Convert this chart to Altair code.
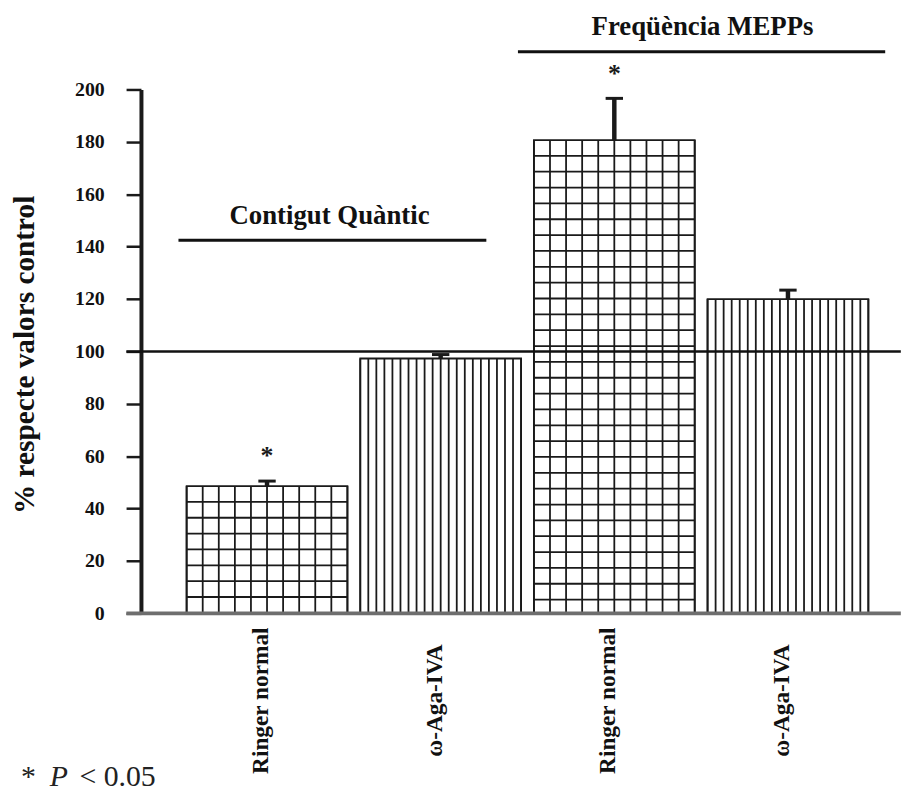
import altair as alt
import pandas as pd
import numpy as np

# ---------------- data ----------------
categories = ["Ringer normal", "ω-Aga-IVA", "Ringer normal", "ω-Aga-IVA"]
groups = ["Contigut Quàntic", "Contigut Quàntic", "Freqüència MEPPs", "Freqüència MEPPs"]
values = [48.6, 97.3, 180.7, 120.0]
err_upper = [50.5, 98.8, 196.6, 123.4]
signif = ["*", "", "*", ""]
fill_kind = ["grid", "vertical", "grid", "vertical"]
y_ticks = [0, 20, 40, 60, 80, 100, 120, 140, 160, 180, 200]
reference_value = [100]
group_names = ["Contigut Quàntic", "Freqüència MEPPs"]
footnote_parts = ["*", "P", "< 0.05"]

# ---------------- layout / style constants ----------------
FONT = "Liberation Serif"
POS = [1, 2, 3, 4]
HALF = 0.463
X_DOMAIN = [0.274, 4.651]
LINE_X0, LINE_X1 = 0.19, 4.65
GROUP_LINE_X0 = [0.49, 2.445]
GROUP_LINE_X1 = [2.263, 4.56]
GROUP_LINE_Y = [142.4, 214.4]
GROUP_TEXT_X = [1.36, 3.508]
GROUP_TEXT_Y = [151.5, 223.9]
GRID_STEP_Y = 6.05
INK = "#1a1a1a"

bars = pd.DataFrame({
    "pos": POS, "cat": categories, "group": groups, "value": values,
    "err": err_upper, "sig": signif, "kind": fill_kind,
})
bars["x0"] = bars["pos"] - HALF
bars["x1"] = bars["pos"] + HALF
bars["cx0"] = bars["pos"] - 0.05
bars["cx1"] = bars["pos"] + 0.05

# hatch pattern pieces (style only, derived from the bar table)
vrows, hrows = [], []
for _, b in bars.iterrows():
    n = 10 if b["kind"] == "grid" else 20
    for k in range(n + 1):
        vrows.append({"x": b["x0"] + (b["x1"] - b["x0"]) * k / n, "y0": 0, "y1": b["value"]})
    if b["kind"] == "grid":
        k = 1
        while b["value"] - k * GRID_STEP_Y > 3:
            hrows.append({"y": b["value"] - k * GRID_STEP_Y, "x0": b["x0"], "x1": b["x1"]})
            k += 1
vlines = pd.DataFrame(vrows)
hlines = pd.DataFrame(hrows)

xs = alt.Scale(domain=X_DOMAIN, nice=False, zero=False)
ys = alt.Scale(domain=[0, 200], nice=False)

base = alt.Chart(bars)

rects = base.mark_rect(fill="white", stroke=INK, strokeWidth=1.8).encode(
    x=alt.X("x0:Q", scale=xs, axis=None),
    x2="x1:Q",
    y=alt.Y("value:Q", scale=ys, axis=alt.Axis(
        values=y_ticks, grid=False, tickSize=15, tickWidth=2.5, tickColor=INK,
        domainWidth=4, domainColor=INK, labelFont=FONT, labelFontWeight="bold",
        labelFontSize=20, labelPadding=22, labelColor="#111",
        title="% respecte valors control", titleFont=FONT, titleFontWeight="bold",
        titleFontSize=29.5, titleColor="#111", titleX=-117, titleY=267,
        titleAngle=270, titleAlign="center", titleBaseline="middle")),
    y2=alt.datum(0),
)

vhatch = alt.Chart(vlines).mark_rule(color=INK, strokeWidth=1.8).encode(
    x=alt.X("x:Q", scale=xs), y=alt.Y("y0:Q", scale=ys), y2="y1:Q")
hhatch = alt.Chart(hlines).mark_rule(color=INK, strokeWidth=1.8).encode(
    x=alt.X("x0:Q", scale=xs), x2="x1:Q", y=alt.Y("y:Q", scale=ys))

err_line = base.mark_rule(color=INK, strokeWidth=4.5).encode(
    x=alt.X("pos:Q", scale=xs), y=alt.Y("value:Q", scale=ys), y2="err:Q")
err_cap = base.mark_rule(color=INK, strokeWidth=3).encode(
    x=alt.X("cx0:Q", scale=xs), x2="cx1:Q", y=alt.Y("err:Q", scale=ys))

stars = base.mark_text(font=FONT, fontWeight="bold", fontSize=26, color=INK,
                       baseline="alphabetic", dy=-17).encode(
    x=alt.X("pos:Q", scale=xs), y=alt.Y("err:Q", scale=ys), text="sig:N")

ref = pd.DataFrame({"y": reference_value, "x0": [LINE_X0], "x1": [LINE_X1]})
ref_line = alt.Chart(ref).mark_rule(color="#111", strokeWidth=2.6).encode(
    x=alt.X("x0:Q", scale=xs), x2="x1:Q", y=alt.Y("y:Q", scale=ys))

baseline_df = pd.DataFrame({"y": [0], "x0": [LINE_X0], "x1": [LINE_X1]})
baseline = alt.Chart(baseline_df).mark_rule(color="#6e6e6e", strokeWidth=4).encode(
    x=alt.X("x0:Q", scale=xs), x2="x1:Q", y=alt.Y("y:Q", scale=ys))

xlabels = base.mark_text(font=FONT, fontWeight="bold", fontSize=23.5, color="#111",
                         angle=270, align="center", baseline="middle",
                         dx=-88, dy=-6).encode(
    x=alt.X("pos:Q", scale=xs), y=alt.Y("zero:Q", scale=ys), text="cat:N"
).transform_calculate(zero="0")

gdf = pd.DataFrame({"name": group_names, "lx0": GROUP_LINE_X0, "lx1": GROUP_LINE_X1,
                    "ly": GROUP_LINE_Y, "tx": GROUP_TEXT_X, "ty": GROUP_TEXT_Y})
glines = alt.Chart(gdf).mark_rule(color="#111", strokeWidth=3).encode(
    x=alt.X("lx0:Q", scale=xs), x2="lx1:Q", y=alt.Y("ly:Q", scale=ys))
gtext = alt.Chart(gdf).mark_text(font=FONT, fontWeight="bold", fontSize=27,
                                 color="#111", baseline="middle").encode(
    x=alt.X("tx:Q", scale=xs), y=alt.Y("ty:Q", scale=ys), text="name:N")

FN_Y = 702
fn_star = alt.Chart(pd.DataFrame({"t": [footnote_parts[0]]})).mark_text(
    font=FONT, fontSize=30, align="left", baseline="alphabetic", color="#222").encode(
    x=alt.value(-121), y=alt.value(FN_Y), text="t:N")
fn_p = alt.Chart(pd.DataFrame({"t": [footnote_parts[1]]})).mark_text(
    font=FONT, fontSize=30, fontStyle="italic", align="left", baseline="alphabetic",
    color="#222").encode(x=alt.value(-92), y=alt.value(FN_Y), text="t:N")
fn_rest = alt.Chart(pd.DataFrame({"t": [footnote_parts[2]]})).mark_text(
    font=FONT, fontSize=30, align="left", baseline="alphabetic", color="#222").encode(
    x=alt.value(-62), y=alt.value(FN_Y), text="t:N")

chart = alt.layer(
    rects, vhatch, hhatch, err_line, err_cap, stars, ref_line, baseline,
    xlabels, glines, gtext, fn_star, fn_p, fn_rest,
).properties(
    width=766, height=528,
    padding={"left": 134, "top": 79, "right": 0, "bottom": 186},
    autosize=alt.AutoSizeParams(type="none"),
    background="white",
).configure_view(stroke=None)

chart.save("out.html", embed_options={"renderer": "svg", "actions": False})
